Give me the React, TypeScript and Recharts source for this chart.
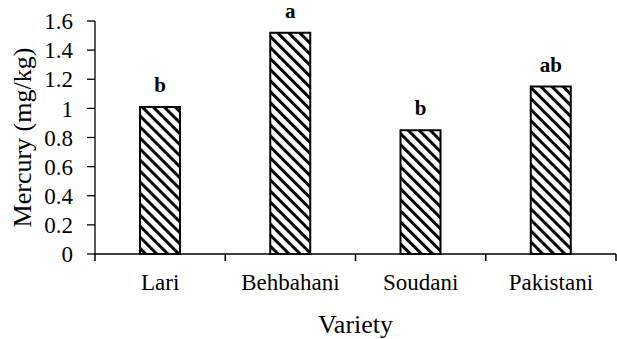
import { BarChart, Bar, XAxis, YAxis, LabelList } from 'recharts';

const varieties = ['Lari', 'Behbahani', 'Soudani', 'Pakistani'];
const mercury = [1.01, 1.52, 0.85, 1.15];
const groups = ['b', 'a', 'b', 'ab'];
const yTicks = [0, 0.2, 0.4, 0.6, 0.8, 1, 1.2, 1.4, 1.6];

const TICK_SIZE = 5;
const TICK_MARGIN = 15;

const chartData = varieties.map((name, i) => ({
  name,
  mercury: mercury[i],
  group: groups[i],
}));

const YLabel = ({ viewBox }: any) => {
  const cx = viewBox.x + 31;
  const cy = viewBox.y + viewBox.height / 2;
  return (
    <text
      x={cx}
      y={cy}
      transform={`rotate(-90 ${cx} ${cy})`}
      textAnchor="middle"
      fontSize={26}
      fill="#000"
    >
      Mercury (mg/kg)
    </text>
  );
};

// category label in the middle, tick marks on the category boundaries
const CatTick = ({ x, y, payload, index, visibleTicksCount }: any) => {
  const half = payload.offset || 0;
  const axisY = y - TICK_SIZE - TICK_MARGIN;
  const last = index === visibleTicksCount - 1;
  return (
    <g>
      <line x1={x - half} x2={x - half} y1={axisY} y2={axisY + 7} stroke="#000" strokeWidth={1.5} />
      {last && <line x1={x + half} x2={x + half} y1={axisY} y2={axisY + 7} stroke="#000" strokeWidth={1.5} />}
      <text x={x} y={y} dy="0.71em" textAnchor="middle" fill="#000" fontSize={23}>
        {payload.value}
      </text>
    </g>
  );
};

const App = () => {
  return (
    <div style={{ width: 617, height: 339 }}>
      <style>{'body { margin: 0; background: #fff; }'}</style>
      <BarChart
        width={617}
        height={339}
        data={chartData}
        margin={{ top: 21, right: 1, left: 0, bottom: 0 }}
      >
        <defs>
          <pattern
            id="hatch"
            patternUnits="userSpaceOnUse"
            width={7.8}
            height={7.8}
            patternTransform="rotate(-45)"
          >
            <rect x={0} y={0} width={7.8} height={7.8} fill="#fff" />
            <rect x={0} y={0} width={3} height={7.8} fill="#000" />
          </pattern>
        </defs>
        <XAxis
          dataKey="name"
          tickLine={false}
          axisLine={{ stroke: '#000', strokeWidth: 1.3 }}
          tick={<CatTick />}
          tickSize={TICK_SIZE}
          tickMargin={TICK_MARGIN}
          height={85}
          interval={0}
          label={{
            value: 'Variety',
            position: 'insideBottom',
            offset: 6,
            fill: '#000',
            fontSize: 26,
          }}
        />
        <YAxis
          domain={[0, 1.6]}
          ticks={yTicks}
          interval={0}
          width={95}
          axisLine={{ stroke: '#000', strokeWidth: 1.3 }}
          tickLine={{ stroke: '#000', strokeWidth: 1.3 }}
          tickSize={8}
          tickMargin={14}
          tick={{ fill: '#000', fontSize: 23 }}
          label={{ content: YLabel }}
        />
        <Bar
          dataKey="mercury"
          barSize={40}
          fill="url(#hatch)"
          stroke="#000"
          strokeWidth={2}
          isAnimationActive={false}
        >
          <LabelList
            dataKey="group"
            position="top"
            offset={15}
            fill="#000"
            fontSize={21}
            fontWeight="bold"
          />
        </Bar>
      </BarChart>
    </div>
  );
};

export default App;
